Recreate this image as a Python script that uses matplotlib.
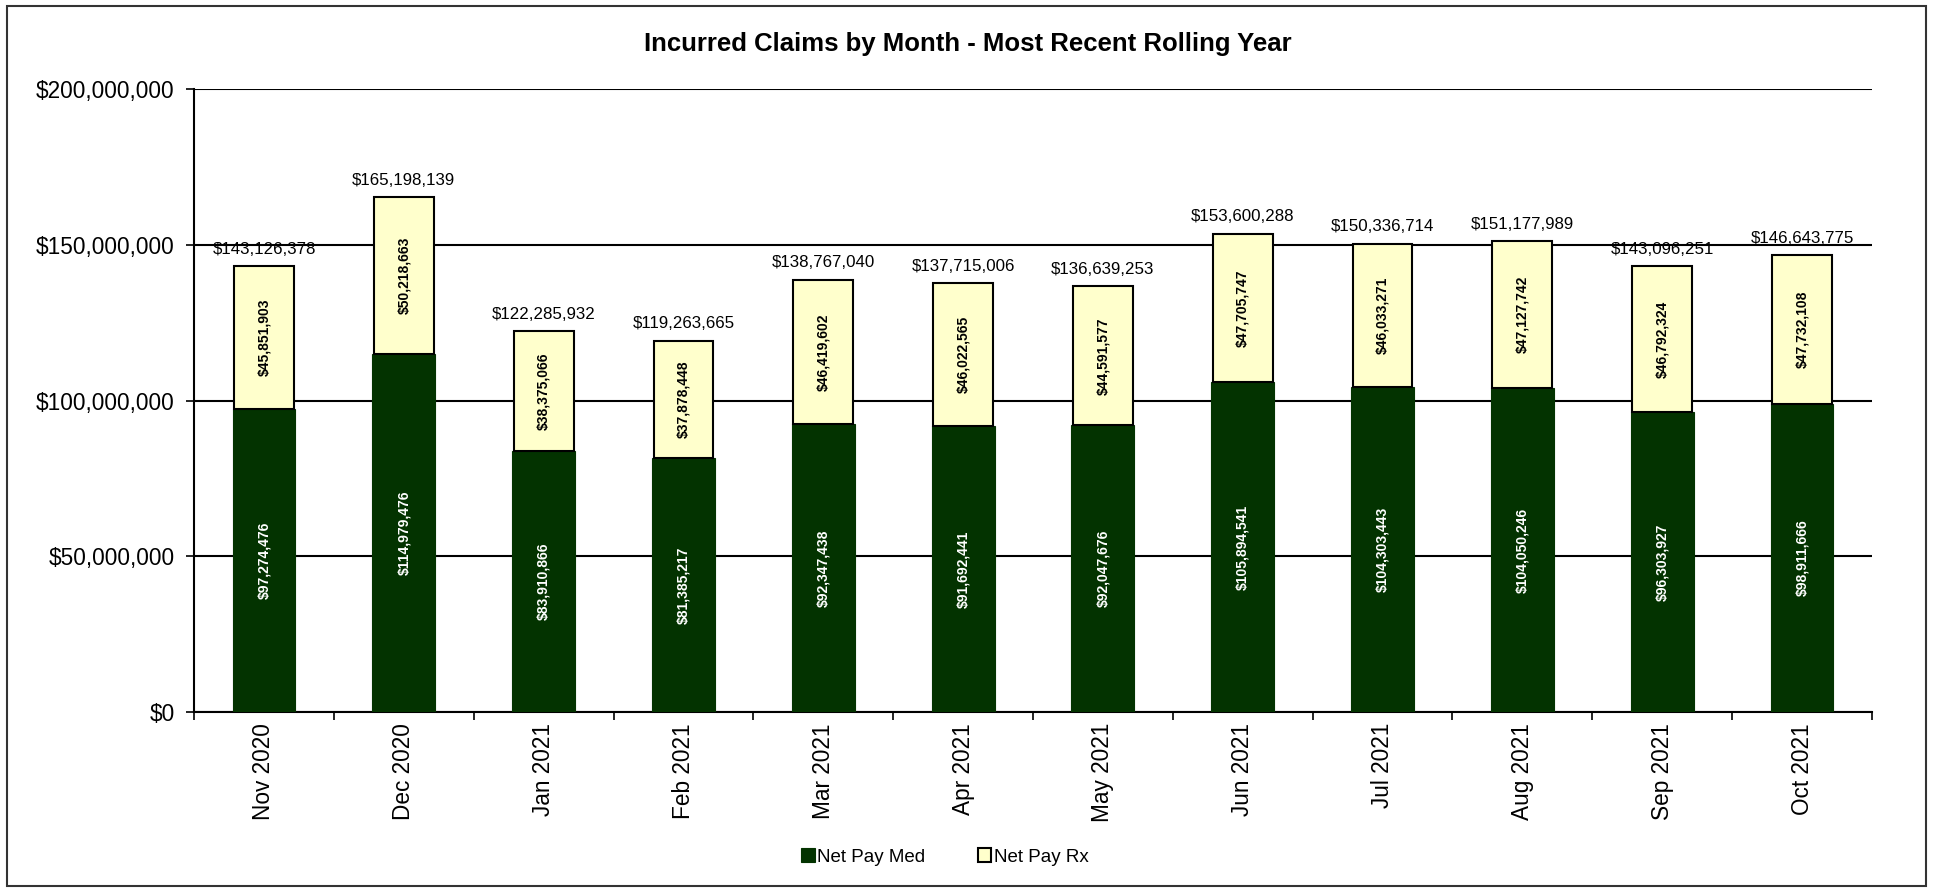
import matplotlib.pyplot as plt
import matplotlib.patches as patches
import numpy as np

plt.rcParams['font.family'] = ['Liberation Sans', 'DejaVu Sans']

months = ['Nov 2020', 'Dec 2020', 'Jan 2021', 'Feb 2021', 'Mar 2021', 'Apr 2021',
          'May 2021', 'Jun 2021', 'Jul 2021', 'Aug 2021', 'Sep 2021', 'Oct 2021']
net_pay_med = [97274476, 114979476, 83910866, 81385217, 92347438, 91692441,
               92047676, 105894541, 104303443, 104050246, 96303927, 98911666]
net_pay_rx = [45851903, 50218663, 38375066, 37878448, 46419602, 46022565,
              44591577, 47705747, 46033271, 47127742, 46792324, 47732108]
totals = [143126378, 165198139, 122285932, 119263665, 138767040, 137715006,
          136639253, 153600288, 150336714, 151177989, 143096251, 146643775]

med_color = '#033300'
rx_color = '#ffffcc'

fig = plt.figure(figsize=(19.35, 8.92), dpi=100)
ax = fig.add_axes([0.1003, 0.2018, 0.8671, 0.6984])

x = np.arange(len(months))
w = 0.45
ax.bar(x, net_pay_med, width=w, color=med_color, edgecolor=med_color, linewidth=0.8,
       label='Net Pay Med', zorder=3)
ax.bar(x, net_pay_rx, width=w * 0.95, bottom=net_pay_med, color=rx_color, edgecolor='black',
       linewidth=1.5, label='Net Pay Rx', zorder=3)

for i in x:
    ax.text(i, net_pay_med[i] / 2, '${:,}'.format(net_pay_med[i]), rotation=90,
            ha='center', va='center', color='white', fontsize=10, fontweight='bold', zorder=4)
    ax.text(i, net_pay_med[i] + net_pay_rx[i] / 2, '${:,}'.format(net_pay_rx[i]), rotation=90,
            ha='center', va='center', color='black', fontsize=10, fontweight='bold', zorder=4)
    ax.text(i, totals[i] + 3e6, '${:,}'.format(totals[i]), ha='center', va='bottom',
            fontsize=12.2, zorder=4)

ax.set_xlim(-0.5, len(months) - 0.5)
ax.set_ylim(0, 200e6)
ax.set_yticks(np.arange(0, 200e6 + 1, 50e6))
ax.set_yticklabels(['${:,.0f}'.format(v) for v in np.arange(0, 200e6 + 1, 50e6)], fontsize=16.3)
ax.yaxis.grid(True, color='black', linewidth=1.5, zorder=1)
ax.set_axisbelow(True)

ax.set_xticks(x)
ax.set_xticklabels(months, rotation=90, fontsize=16.3)
ax.set_xticks(np.arange(-0.5, len(months) + 0.5, 1), minor=True)
ax.tick_params(axis='x', which='major', length=0, pad=8)
ax.tick_params(axis='x', which='minor', length=6, width=1.2, direction='out')
ax.tick_params(axis='y', length=6, width=1.2, direction='out', pad=8)

for s in ['top', 'right']:
    ax.spines[s].set_visible(False)
for s in ['left', 'bottom']:
    ax.spines[s].set_linewidth(1.5)

fig.text(0.5, 0.951, 'Incurred Claims by Month - Most Recent Rolling Year', ha='center',
         va='center', fontsize=18.5, fontweight='bold')

ax.legend(loc='center', bbox_to_anchor=(0.4476, -0.2327), ncol=2, frameon=False,
          fontsize=13.5, handlelength=0.7, handleheight=0.7, columnspacing=2.8,
          handletextpad=0.15)

fig.patches.append(patches.Rectangle((0.0035, 0.007), 0.992, 0.986, transform=fig.transFigure,
                                     fill=False, edgecolor='#333333', linewidth=1.5))

fig.savefig('out.png', dpi=100)
